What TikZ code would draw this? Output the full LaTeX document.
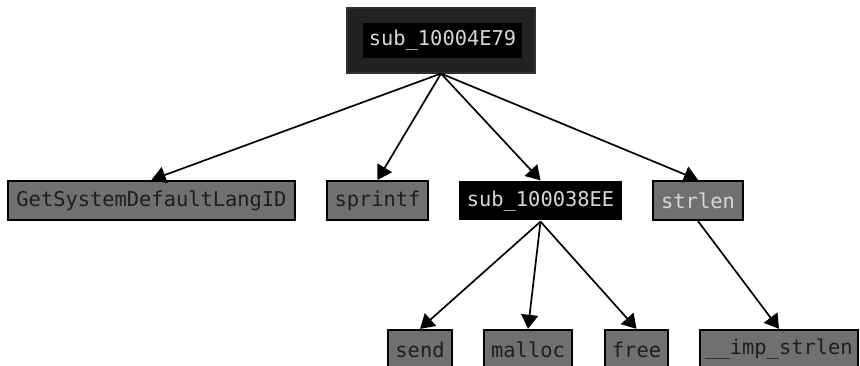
\documentclass[tikz,border=0pt]{standalone}
\usepackage{fontspec}
\newfontfamily\codefont{DejaVu Sans Mono}
\usepackage{tikz}
\usetikzlibrary{arrows.meta,positioning}
\definecolor{boxgray}{RGB}{112,112,112}
\definecolor{txtdark}{RGB}{30,30,30}
\definecolor{txtlight}{RGB}{215,215,215}
\definecolor{rootouter}{RGB}{34,34,34}
\definecolor{rootedge}{RGB}{48,48,48}

\begin{document}
\begin{tikzpicture}[
  x=0.025cm,y=-0.025cm,
  fnode/.style={rectangle,draw=black,line width=1.6pt,fill=boxgray,text=txtdark,
    minimum height=39*0.025cm,inner sep=0pt,font=\codefont\fontsize{14.5}{16}\selectfont},
  subnode/.style={fnode,draw=none,fill=black,text=txtlight},
  edge/.style={line width=1.2pt,-{Triangle[length=10pt,width=12pt]}}
]
\useasboundingbox (0,0) rectangle (860,366);

% ---------------- root ----------------
\node[rectangle,fill=rootouter,draw=rootedge,line width=0.8pt,
  minimum width=188*0.025cm,minimum height=65*0.025cm] (rootbox) at (441,40.5) {};
\node[subnode,minimum width=159*0.025cm,minimum height=35*0.025cm] (root) at (442.5,40.5) {sub\_10004E79};

% ---------------- first level ----------------
\node[fnode,minimum width=287*0.025cm] (langid) at (151.5,200.5) {GetSystemDefaultLangID};
\node[fnode,minimum width=101*0.025cm] (sprintf) at (377.5,200.5) {sprintf};
\node[subnode,minimum width=163*0.025cm] (sub38) at (540.5,201) {sub\_100038EE};
\node[fnode,text=txtlight,minimum width=90*0.025cm] (strlen) at (698,200.5) {strlen};

% ---------------- second level ----------------
\node[fnode,minimum width=64*0.025cm] (send) at (420,349.5) {send};
\node[fnode,minimum width=88*0.025cm] (malloc) at (528,349.5) {malloc};
\node[fnode,minimum width=63*0.025cm] (free) at (636.5,349.5) {free};
\node[fnode,minimum width=158*0.025cm] (impstrlen) at (779,349.5) {\_\_imp\_strlen};

% edges
\draw[edge] (rootbox.south) -- (langid.north);
\draw[edge] (rootbox.south) -- (sprintf.north);
\draw[edge] (rootbox.south) -- (sub38.north);
\draw[edge] (rootbox.south) -- (strlen.north);

\draw[edge] (sub38.south) -- (send.north);
\draw[edge] (sub38.south) -- (malloc.north);
\draw[edge] (sub38.south) -- (free.north);
\draw[edge] (strlen.south) -- (impstrlen.north);

\end{tikzpicture}
\end{document}
